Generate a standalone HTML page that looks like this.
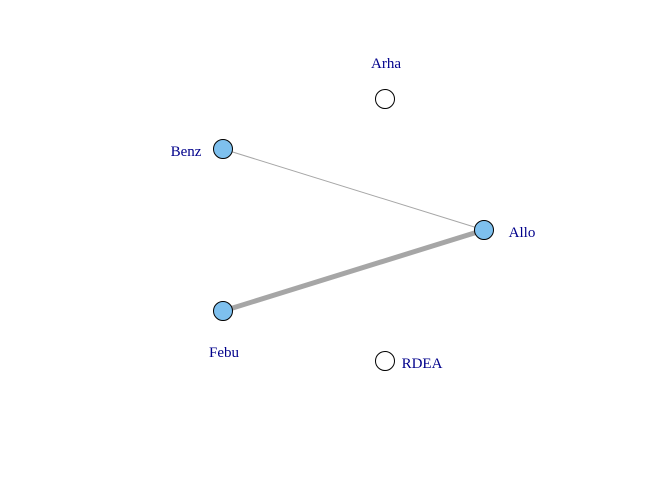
<!DOCTYPE html>
<html><head><meta charset="utf-8"><style>
html,body{margin:0;padding:0;background:#fff;}
svg text{font-family:"Liberation Serif",serif;font-size:15px;fill:#00008B;}
</style></head><body>
<svg id="g" width="672" height="480" xmlns="http://www.w3.org/2000/svg"></svg>
<script>
const nodeNames = ["Arha","Benz","Allo","Febu","RDEA"];
const nodeX = [385,223,484,223,385];
const nodeY = [99,149,230,311,361];
const nodeFilled = [false,true,true,true,false];
const labelDX = [1,-37,38,1,37];
const labelDY = [-36,2,2,41,2];
const edgeFrom = [1,3];
const edgeTo = [2,2];
const edgeWeight = [1,5];
const svg = document.getElementById('g');
const NS = "http://www.w3.org/2000/svg";
for (let i=0;i<edgeFrom.length;i++){
  const l=document.createElementNS(NS,'line');
  
  
  l.setAttribute('x1',nodeX[edgeFrom[i]]);l.setAttribute('y1',nodeY[edgeFrom[i]]);
  l.setAttribute('x2',nodeX[edgeTo[i]]);l.setAttribute('y2',nodeY[edgeTo[i]]);
  l.setAttribute('stroke','#a6a6a6');l.setAttribute('stroke-width',edgeWeight[i]);
  svg.appendChild(l);
}
for (let i=0;i<nodeNames.length;i++){
  const c=document.createElementNS(NS,'circle');
  
  
  c.setAttribute('cx',nodeX[i]);c.setAttribute('cy',nodeY[i]);c.setAttribute('r',9.5);
  c.setAttribute('fill',nodeFilled[i]?'#7EC0EE':'#fff');
  c.setAttribute('stroke','#000');c.setAttribute('stroke-width',1);
  svg.appendChild(c);
  const t=document.createElementNS(NS,'text');
  
  
  t.setAttribute('x',nodeX[i]+labelDX[i]);t.setAttribute('y',nodeY[i]+labelDY[i]+5);
  t.setAttribute('text-anchor','middle');
  t.textContent=nodeNames[i];
  svg.appendChild(t);
}
</script>
</body></html>
